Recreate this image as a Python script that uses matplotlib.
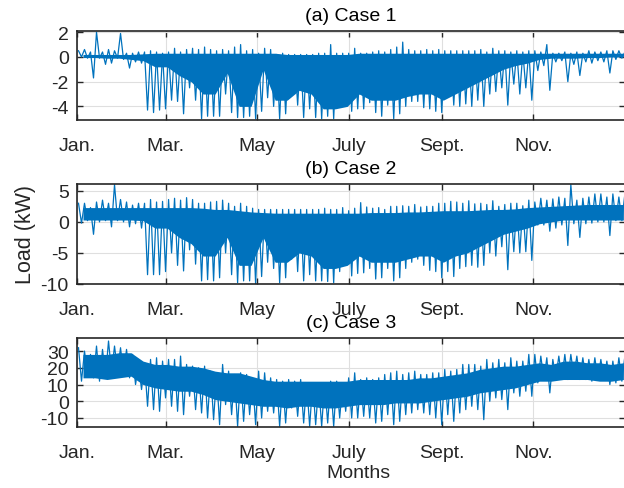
"""Yearly load profiles for the three cases, MATLAB-style stacked panels."""
import matplotlib

matplotlib.use("Agg")
import matplotlib.pyplot as plt
import numpy as np

BLUE = "#0072BD"
INK = "#262626"
GRID = "#dfdfdf"

plt.rcParams["font.family"] = ["Liberation Sans", "DejaVu Sans"]
plt.rcParams["axes.unicode_minus"] = False

MONTH_LABELS = ["Jan.", "Mar.", "May", "July", "Sept.", "Nov."]
MONTH_START_DAY = [0, 59, 120, 181, 243, 304]
SPIKE_DAYS = 4  # spike lists: max / min of each 4-day window
BODY_DAYS = 8   # body lists: edges of the dense band, per 8-day window

CASE1_HI = [0.5, 0.6, 0.4, 2.0, 0.4, 0.6, 0.5, 1.9, 0.3, 0.3,
            0.4, 0.4, 0.5, 0.4, 0.3, 0.4, 0.7, 0.4, 0.6, 0.7,
            0.6, 0.8, 0.6, 0.5, 0.6, 0.5, 0.8, 1.0, 0.5, 0.6,
            0.3, 0.7, 0.6, 0.2, 0.3, 0.2, 0.2, 0.2, 0.2, 0.2,
            0.3, 0.3, 1.0, 0.3, 0.3, 0.3, 0.7, 0.3, 0.3, 0.4,
            0.5, 0.4, 0.6, 0.8, 1.2, 0.6, 0.5, 0.5, 0.6, 0.5,
            0.6, 0.5, 0.5, 0.5, 0.5, 0.5, 0.5, 0.6, 0.4, 0.7,
            0.5, 0.5, 0.4, 0.5, 0.4, 0.5, 0.5, 0.4, 1.0, 0.3,
            0.3, 0.4, 0.3, 0.4, 0.3, 0.5, 0.4, 0.4, 0.5, 0.5,
            0.5, 0.4]
CASE1_LO = [0.0, -0.1, -1.7, -0.1, -0.6, -0.5, -0.1, -0.2, -0.9, -0.4,
            -0.5, -4.3, -4.5, -4.3, -4.2, -3.5, -3.6, -4.6, -2.5, -3.5,
            -5.0, -4.8, -4.8, -4.8, -3.0, -4.5, -4.9, -4.9, -4.8, -5.0,
            -4.4, -3.3, -4.0, -5.0, -4.6, -3.0, -3.9, -4.9, -4.2, -4.9,
            -5.0, -4.8, -5.0, -4.0, -3.3, -4.4, -4.2, -4.2, -3.7, -4.5,
            -4.8, -3.9, -5.0, -4.6, -4.0, -3.6, -3.6, -4.1, -4.2, -4.4,
            -4.5, -3.2, -3.9, -4.0, -3.8, -4.0, -3.5, -4.0, -3.0, -2.8,
            -2.5, -3.9, -2.2, -3.0, -2.5, -3.5, -1.1, -0.7, -2.7, -0.4,
            -0.3, -2.0, -0.6, -1.5, -0.4, -0.5, -0.3, -0.4, -1.3, -0.2,
            -0.1, 0.0]
CASE1_BODY_TOP = [0.2, 0.2, 0.2, 0.2, 0.2, 0.25, 0.3, 0.3, 0.3, 0.3,
                  0.3, 0.3, 0.3, 0.3, 0.3, 0.3, 0.3, 0.2, 0.2, 0.2,
                  0.2, 0.2, 0.2, 0.3, 0.3, 0.3, 0.3, 0.3, 0.3, 0.3,
                  0.3, 0.3, 0.3, 0.3, 0.3, 0.3, 0.3, 0.3, 0.3, 0.3,
                  0.3, 0.3, 0.3, 0.3, 0.3, 0.3]
CASE1_BODY_BOT = [-0.05, -0.05, -0.1, -0.1, -0.2, -0.3, -0.8, -0.8, -1.5, -2.0,
                  -3.0, -3.0, -1.3, -4.0, -4.0, -1.0, -3.5, -3.5, -2.7, -3.0,
                  -4.2, -4.2, -4.0, -3.0, -3.5, -3.5, -3.5, -3.2, -3.0, -3.0,
                  -3.5, -3.0, -2.5, -2.0, -1.5, -1.0, -0.7, -0.5, -0.2, -0.1,
                  -0.1, -0.1, -0.05, -0.05, 0.0, 0.0]

CASE2_HI = [3.0, 3.0, 2.3, 3.2, 3.5, 3.0, 6.0, 3.6, 3.2, 2.7,
            3.0, 3.0, 3.6, 3.2, 3.3, 3.6, 3.8, 3.5, 3.9, 3.6,
            3.0, 3.0, 3.2, 3.3, 3.5, 3.0, 2.5, 3.0, 2.5, 2.2,
            2.0, 2.0, 2.0, 2.0, 2.0, 2.0, 2.0, 2.0, 2.0, 2.0,
            2.0, 2.2, 2.0, 2.0, 2.3, 1.8, 2.2, 3.1, 2.4, 2.2,
            2.3, 2.0, 2.5, 2.5, 2.6, 2.5, 2.8, 2.4, 2.5, 2.5,
            3.0, 3.0, 3.3, 3.2, 3.0, 3.4, 2.9, 3.0, 2.8, 3.4,
            2.5, 2.8, 3.0, 3.0, 2.6, 3.5, 3.2, 3.8, 3.5, 3.7,
            4.0, 3.8, 6.0, 3.5, 3.8, 4.0, 4.5, 4.5, 4.0, 4.5,
            4.0, 4.5]
CASE2_LO = [-0.2, 0.2, -2.0, 0.0, 0.2, -0.8, 0.2, 0.0, -0.8, -0.3,
            -1.0, -8.5, -8.5, -8.5, -8.0, -5.0, -7.0, -7.9, -4.5, -6.8,
            -9.5, -9.3, -9.5, -9.0, -5.0, -8.5, -9.8, -9.5, -9.5, -10.0,
            -8.8, -6.5, -7.5, -9.8, -9.0, -6.0, -8.0, -9.5, -8.5, -9.5,
            -9.5, -9.6, -9.8, -8.0, -6.8, -8.7, -8.3, -8.2, -7.5, -9.2,
            -9.0, -7.5, -9.5, -9.0, -7.5, -6.5, -6.0, -7.0, -7.8, -8.0,
            -9.0, -8.0, -8.8, -7.5, -7.2, -7.0, -7.3, -7.0, -5.0, -5.5,
            -4.0, -7.7, -4.8, -5.0, -4.8, -6.2, -0.5, -0.5, -1.5, -1.0,
            -0.5, -3.8, -0.3, -2.5, -0.3, -0.2, 0.0, 0.0, -2.2, 0.2,
            0.2, 0.2]
CASE2_BODY_TOP = [2.3, 2.3, 2.3, 2.3, 2.3, 2.3, 2.3, 2.3, 2.3, 2.3,
                  2.2, 2.0, 2.0, 1.8, 1.6, 1.5, 1.4, 1.4, 1.4, 1.4,
                  1.4, 1.4, 1.4, 1.4, 1.5, 1.5, 1.5, 1.6, 1.6, 1.7,
                  1.8, 1.8, 1.8, 1.9, 2.0, 2.0, 2.1, 2.3, 2.4, 2.5,
                  2.6, 2.7, 2.8, 2.8, 2.8, 2.8]
CASE2_BODY_BOT = [0.3, 0.3, 0.3, 0.3, 0.3, 0.2, -1.0, -1.0, -2.5, -3.5,
                  -5.5, -5.5, -2.5, -7.0, -7.0, -2.5, -6.5, -6.5, -5.0, -5.5,
                  -7.5, -7.5, -7.0, -5.5, -6.5, -6.5, -6.5, -6.0, -5.5, -5.5,
                  -6.5, -5.5, -5.0, -4.0, -3.0, -2.0, -1.5, -1.0, -0.3, 0.0,
                  0.3, 0.3, 0.3, 0.3, 0.3, 0.3]

CASE3_HI = [32, 30, 28, 33, 31, 36, 33, 32, 31, 28,
            22, 23, 25, 26, 24, 25, 25, 27, 22, 21,
            20, 21, 18, 16, 22, 18, 16, 17, 16, 13,
            18, 17, 14, 13, 12, 13, 12, 13, 11, 11,
            10, 11, 12, 12, 11, 14, 17, 13, 14, 13,
            14, 16, 17, 18, 16, 17, 18, 16, 16, 17,
            17, 19, 18, 19, 22, 22, 22, 21, 25, 23,
            25, 23, 26, 24, 24, 28, 28, 27, 26, 25,
            27, 28, 28, 27, 26, 25, 26, 25, 24, 24,
            26, 27]
CASE3_LO = [12, 16, 14, 12, 15, 17, 18, 16, 14, 10,
            7, -3, -5, -6, 2, -3, -6, -8, 3, -5,
            -7, -10, -11, -14, -2, -8, -15, -12, -8, -14,
            -10, -6, -7, -15, -13, -4, -9, -13, -15, -14,
            -15, -13, -15, -10, -6, -10, -10, -9, -10, -13,
            -12, -8, -14, -12, -8, -7, -5, -7, -8, -10,
            -14, -8, -12, -7, -5, -3, -5, -11, 0, 2,
            1, -5, 5, 3, 6, 3, 11, 13, 5, 14,
            13, 13, 15, 13, 13, 12, 13, 13, 10, 11,
            12, 14]
CASE3_BODY_TOP = [28, 28, 28, 29, 29, 24, 22, 22, 21, 21,
                  20, 18, 17, 17, 15, 13, 12, 12, 12, 12,
                  12, 12, 12, 13, 13, 13, 13, 13, 14, 14,
                  15, 16, 17, 19, 20, 21, 21, 22, 23, 22,
                  24, 24, 23, 23, 22, 23]
CASE3_BODY_BOT = [14, 14, 13, 14, 15, 10, 8, 7, 6, 6,
                  4, 1, 0, -1, -2, -3, -3, -4, -3, -3,
                  -4, -4, -3, -2, -2, -2, -1, -1, -1, 0,
                  1, 2, 3, 5, 6, 7, 8, 10, 12, 12,
                  13, 13, 13, 12, 12, 13]

PANELS = [
    ("(a) Case 1", CASE1_HI, CASE1_LO, CASE1_BODY_TOP, CASE1_BODY_BOT,
     (-5.1, 2.1), [-4, -2, 0, 2]),
    ("(b) Case 2", CASE2_HI, CASE2_LO, CASE2_BODY_TOP, CASE2_BODY_BOT,
     (-10, 6.1), [-10, -5, 0, 5]),
    ("(c) Case 3", CASE3_HI, CASE3_LO, CASE3_BODY_TOP, CASE3_BODY_BOT,
     (-15.4, 37.8), [-10, 0, 10, 20, 30]),
]
# left, bottom, width, height in figure fractions
BOXES = [
    (0.1234, 0.7526, 0.878, 0.182),
    (0.1234, 0.4172, 0.878, 0.2045),
    (0.1234, 0.1247, 0.878, 0.182),
]


def zigzag(hi, lo):
    """Hourly x positions: max early in each window, min later in it."""
    start = np.arange(len(hi)) * SPIKE_DAYS * 24
    x = np.column_stack([start + 24, start + 72]).ravel()
    y = np.column_stack([hi, lo]).ravel()
    return x, y


fig = plt.figure(figsize=(6.24, 4.89), dpi=100)
axes = []
for box, (title, hi, lo, top, bot, ylim, yticks) in zip(BOXES, PANELS):
    ax = fig.add_axes(box)
    xb = (np.arange(len(top)) * BODY_DAYS + BODY_DAYS / 2) * 24
    ax.fill_between(xb, bot, top, color=BLUE, linewidth=0)
    x, y = zigzag(hi, lo)
    ax.plot(x, y, color=BLUE, linewidth=0.9)
    ax.set_xlim(0, 8760)
    ax.set_ylim(*ylim)
    ax.set_yticks(yticks)
    ax.set_xticks([d * 24 for d in MONTH_START_DAY], MONTH_LABELS)
    ax.grid(True, color=GRID, linewidth=0.8)
    ax.set_axisbelow(True)
    ax.tick_params(direction="in", top=True, right=True, length=4, width=1,
                   color=INK, labelcolor=INK, labelsize=14)
    ax.tick_params(axis="x", pad=12)
    ax.tick_params(axis="y", pad=6)
    for s in ax.spines.values():
        s.set_linewidth(1.2)
        s.set_color(INK)
    ax.set_title(title, fontsize=14, pad=8)
    axes.append(ax)

axes[1].set_ylabel("Load (kW)", fontsize=15.5, color=INK, labelpad=3)
axes[2].set_xlabel("Months", fontsize=14, color=INK)
axes[2].xaxis.set_label_coords(0.513, -0.42)

fig.savefig("out.png", dpi=100)
